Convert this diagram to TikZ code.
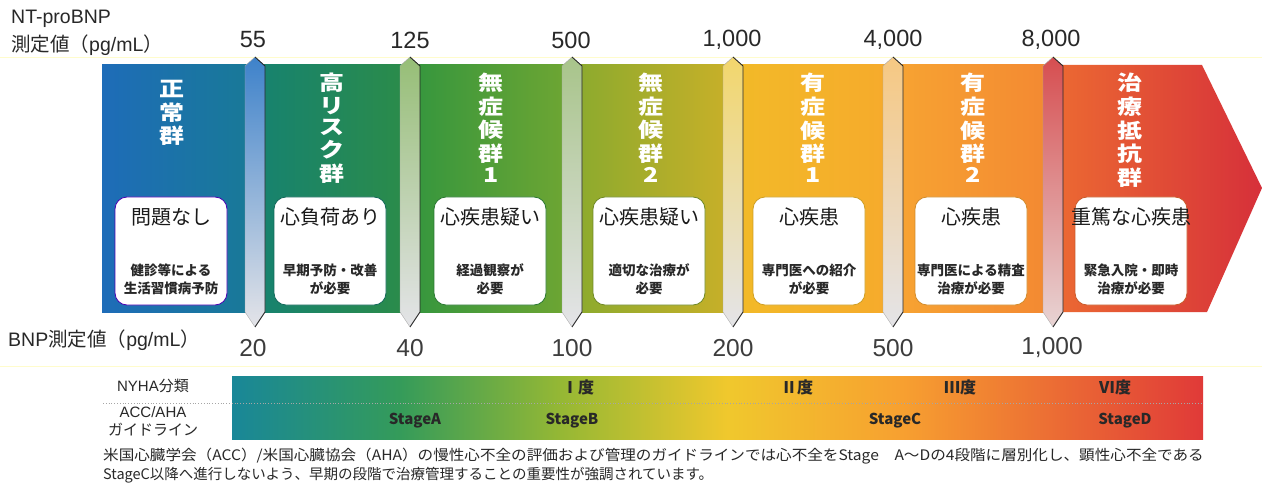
\documentclass[tikz,border=0pt]{standalone}
\usepackage{fontspec}
\usepackage{graphicx}
\setmainfont{Noto Sans CJK JP}
\newfontfamily\latn{Liberation Sans}
\definecolor{sA}{RGB}{30,108,184}
\definecolor{sAr}{RGB}{24,122,150}
\definecolor{sB}{RGB}{22,130,112}
\definecolor{sBr}{RGB}{44,140,72}
\definecolor{sC}{RGB}{52,150,62}
\definecolor{sCr}{RGB}{112,166,50}
\definecolor{sD}{RGB}{138,170,46}
\definecolor{sDr}{RGB}{202,176,40}
\definecolor{sE}{RGB}{242,186,40}
\definecolor{sEr}{RGB}{246,170,44}
\definecolor{sF}{RGB}{247,164,50}
\definecolor{sFr}{RGB}{243,136,50}
\definecolor{sG}{RGB}{236,106,50}
\definecolor{sGr}{RGB}{214,48,58}
\definecolor{bA}{RGB}{62,130,202}
\definecolor{bB}{RGB}{150,190,118}
\definecolor{bC}{RGB}{168,196,138}
\definecolor{bD}{RGB}{242,214,108}
\definecolor{bE}{RGB}{246,200,130}
\definecolor{bF}{RGB}{214,78,80}
\definecolor{bLow}{RGB}{228,228,232}
\definecolor{bLowR}{RGB}{232,212,212}
\definecolor{nA}{RGB}{25,135,152}
\definecolor{nB}{RGB}{52,155,90}
\definecolor{nC}{RGB}{150,184,52}
\definecolor{nD}{RGB}{240,200,45}
\definecolor{nE}{RGB}{247,160,48}
\definecolor{nF}{RGB}{224,58,56}
\definecolor{ink}{RGB}{40,40,40}
\pgfdeclarehorizontalshading{nyhashade}{100bp}{color(0bp)=(nA); color(25bp)=(nA); color(33.6bp)=(nB); color(42bp)=(nC); color(50.5bp)=(nD); color(59.5bp)=(nE); color(75bp)=(nF); color(100bp)=(nF)}
\newcommand\divbar[4]{%
  \shade[top color=#2, bottom color=#3] (#1,57) -- (#1+10,66) -- (#1+10,312) -- (#1,327) -- (#1-10,312) -- (#1-10,66) -- cycle;
  \draw[line width=0.9pt, black!85] (#1,57) -- (#1+10,66) -- (#1+10,312) -- (#1,327);
  \draw[line width=0.4pt, black!35] (#1,57) -- (#1-10,66) -- (#1-10,312) -- (#1,327);
}
\newcommand\vtext[1]{\scalebox{1.22}[1]{\begin{tabular}{@{}c@{}}#1\end{tabular}}}
\begin{document}
\begin{tikzpicture}[x=1pt,y=-1pt,
  vlab/.style={text=white, font=\bfseries\fontsize{20.5}{20.4}\selectfont, anchor=north, inner sep=0pt},
  infobox/.style={draw=#1, line width=0.8pt, fill=white, rounded corners=12pt, minimum width=112pt, minimum height=108pt, inner sep=0pt},
  btitle/.style={font=\fontsize{20}{21}\selectfont, text=black!90, inner sep=0pt},
  bsub/.style={font=\bfseries\fontsize{13.5}{18}\selectfont, align=center, text=ink, inner sep=0pt},
  topnum/.style={font=\latn\fontsize{23.5}{24}\selectfont, text=ink, inner sep=0pt},
  botnum/.style={font=\latn\fontsize{24.5}{25}\selectfont, text=ink!90, inner sep=0pt},
  leftlab/.style={font=\fontsize{19.5}{20}\selectfont, text=ink, inner sep=0pt, anchor=west},
  tablab/.style={font=\fontsize{15}{16}\selectfont, text=ink, inner sep=0pt},
  grade/.style={font=\bfseries\fontsize{16}{17}\selectfont, text=ink, inner sep=0pt},
  stage/.style={font=\bfseries\fontsize{15}{16}\selectfont, text=ink, inner sep=0pt},
  note/.style={font=\fontsize{14.5}{15}\selectfont, text=ink, inner sep=0pt, anchor=west}
]
\useasboundingbox (0,0) rectangle (1262,484);
\fill[white] (0,0) rectangle (1262,484);
% faint guide lines
\draw[line width=1pt, yellow!20!white] (0,58) -- (1262,58);
\draw[line width=1pt, yellow!20!white] (0,366) -- (1262,366);
% left labels
\node[leftlab] (nt) at (11,19) {{\latn NT-proBNP}};
\node[leftlab] (ntu) at (11,45) {測定値（{\latn pg/mL}）};
\node[leftlab] (bnpu) at (8,340) {{\latn BNP}測定値（{\latn pg/mL}）};
% band segments
\shade[left color=sA, right color=sAr] (102,65) rectangle (256,312);
\shade[left color=sB, right color=sBr] (255,65) rectangle (411,312);
\shade[left color=sC, right color=sCr] (410,65) rectangle (573,312);
\shade[left color=sD, right color=sDr] (572,65) rectangle (734,312);
\shade[left color=sE, right color=sEr] (733,65) rectangle (894,312);
\shade[left color=sF, right color=sFr] (893,65) rectangle (1054,312);
\shade[left color=sG, right color=sGr] (1053,65) -- (1202,65) -- (1262,188) -- (1207,312) -- (1053,312) -- cycle;
% dividers
\divbar{255}{bA}{bLow}{d1}
\divbar{410}{bB}{bLow}{d2}
\divbar{572}{bC}{bLow}{d3}
\divbar{733}{bD}{bLow}{d4}
\divbar{893}{bE}{bLow}{d5}
\divbar{1053}{bF}{bLowR}{d6}
% top numbers
\node[topnum] (t1) at (253,40) {55};
\node[topnum] (t2) at (410,40) {125};
\node[topnum] (t3) at (571,40) {500};
\node[topnum] (t4) at (732,40) {1,000};
\node[topnum] (t5) at (893,40) {4,000};
\node[topnum] (t6) at (1051,40) {8,000};
% bottom numbers
\node[botnum] (u1) at (253,348) {20};
\node[botnum] (u2) at (410,348) {40};
\node[botnum] (u3) at (572,348) {100};
\node[botnum] (u4) at (733,348) {200};
\node[botnum] (u5) at (893,348) {500};
\node[botnum] (u6) at (1052,348) {1,000};
% vertical labels
\node[vlab] (v1) at (172,80) {\vtext{正\\常\\群}};
\node[vlab] (v2) at (332,73) {\vtext{高\\リ\\ス\\ク\\群}};
\node[vlab] (v3) at (491,73) {\vtext{無\\症\\候\\群\\1}};
\node[vlab] (v4) at (651,73) {\vtext{無\\症\\候\\群\\2}};
\node[vlab] (v5) at (813,73) {\vtext{有\\症\\候\\群\\1}};
\node[vlab] (v6) at (973,73) {\vtext{有\\症\\候\\群\\2}};
\node[vlab] (v7) at (1130,73) {\vtext{治\\療\\抵\\抗\\群}};
% info boxes
\node[infobox=violet!60!blue] (b1) at (171,251) {};
\node[infobox=sB!80!black] (b2) at (330,251) {};
\node[infobox=sC!80!black] (b3) at (490,251) {};
\node[infobox=sD!80!black] (b4) at (649,251) {};
\node[infobox=sE!85!black] (b5) at (809,251) {};
\node[infobox=sF!85!black] (b6) at (971,251) {};
\node[infobox=sG!85!black] (b7) at (1131,251) {};
\node[btitle] (h1) at (171,217) {問題なし};
\node[btitle] (h2) at (330,217) {心負荷あり};
\node[btitle] (h3) at (490,217) {心疾患疑い};
\node[btitle] (h4) at (649,217) {心疾患疑い};
\node[btitle] (h5) at (809,217) {心疾患};
\node[btitle] (h6) at (971,217) {心疾患};
\node[btitle] (h7) at (1131,217) {重篤な心疾患};
\node[bsub] (s1) at (171,279) {健診等による\\生活習慣病予防};
\node[bsub] (s2) at (330,279) {早期予防・改善\\が必要};
\node[bsub] (s3) at (490,279) {経過観察が\\必要};
\node[bsub] (s4) at (649,279) {適切な治療が\\必要};
\node[bsub] (s5) at (809,279) {専門医への紹介\\が必要};
\node[bsub] (s6) at (971,279) {専門医による精査\\治療が必要};
\node[bsub] (s7) at (1131,279) {緊急入院・即時\\治療が必要};
% NYHA / ACC table
\shade[shading=nyhashade] (232,376) rectangle (1203,439);
\draw[dotted, line width=0.8pt, gray!70] (103,403.5) -- (1203,403.5);
\node[tablab] (nyha) at (153,386) {{\latn NYHA}分類};
\node[tablab] (acc) at (153,412) {{\latn ACC/AHA}};
\node[tablab] (gl) at (153,430) {ガイドライン};
\node[grade] (g1) at (578,387) {Ⅰ度};
\node[grade] (g2) at (797,387) {Ⅱ度};
\node[grade] (g3) at (960,387) {Ⅲ度};
\node[grade] (g4) at (1115,387) {Ⅵ度};
\node[stage] (st1) at (415,421) {StageA};
\node[stage] (st2) at (572,421) {StageB};
\node[stage] (st3) at (895,421) {StageC};
\node[stage] (st4) at (1125,421) {StageD};
% footnote
\node[note] (n1) at (103,456) {\scalebox{1.075}[1]{米国心臓学会（ACC）/米国心臓協会（AHA）の慢性心不全の評価および管理のガイドラインでは心不全をStage　A～Dの4段階に層別化し、顕性心不全である}};
\node[note] (n2) at (103,475) {StageC以降へ進行しないよう、早期の段階で治療管理することの重要性が強調されています。};
\end{tikzpicture}
\end{document}
